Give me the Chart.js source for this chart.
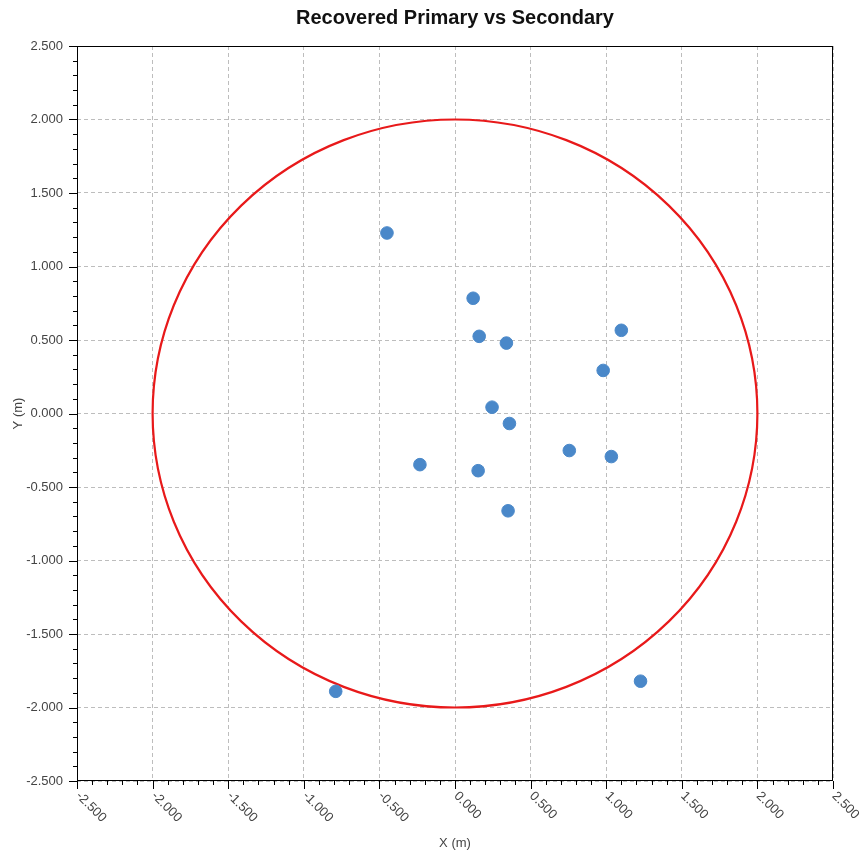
<!DOCTYPE html>
<html><head><meta charset="utf-8">
<script src="https://cdn.jsdelivr.net/npm/chart.js@4.4.0/dist/chart.umd.min.js"></script>
<style>html,body{margin:0;padding:0;background:#fff}#wrap{width:865px;height:863px}</style>
</head><body><div id="wrap"><canvas id="c" width="865" height="863"></canvas></div>
<script>
const TITLE = 'Recovered Primary vs Secondary';
const X_LABEL = 'X (m)';
const Y_LABEL = 'Y (m)';
const AXIS_MIN = -2.5, AXIS_MAX = 2.5, MAJOR_STEP = 0.5, MINOR_PER_MAJOR = 5;
const TICK_VALUES = [-2.5, -2.0, -1.5, -1.0, -0.5, 0.0, 0.5, 1.0, 1.5, 2.0, 2.5];
const TICK_LABELS = ['-2.500', '-2.000', '-1.500', '-1.000', '-0.500', '0.000', '0.500', '1.000', '1.500', '2.000', '2.500'];
const PRIMARY_RADIUS = 2.0;
const secondaryX = [-0.45, 0.12, 0.16, 0.34, 1.10, 0.98, 0.245, 0.36, 0.756, 1.034, -0.232, 0.153, 0.351, -0.789, 1.227];
const secondaryY = [1.228, 0.784, 0.525, 0.479, 0.566, 0.293, 0.043, -0.068, -0.252, -0.293, -0.348, -0.389, -0.662, -1.89, -1.821];

const FONT = '"Liberation Sans", Arial, Helvetica, sans-serif';
const TICK_COLOR = '#444';

const points = secondaryX.map((x, i) => ({x: x, y: secondaryY[i]}));

function labelFor(v) {
  const i = TICK_VALUES.findIndex(t => Math.abs(t - v) < 1e-9);
  return i >= 0 ? TICK_LABELS[i] : '';
}

const framePlugin = {
  id: 'frame',
  beforeDatasetsDraw(chart) {
    const {ctx} = chart;
    const xs = chart.scales.x, ys = chart.scales.y;
    const cx = xs.getPixelForValue(0), cy = ys.getPixelForValue(0);
    const rx = xs.getPixelForValue(PRIMARY_RADIUS) - cx;
    const ry = cy - ys.getPixelForValue(PRIMARY_RADIUS);
    ctx.save();
    ctx.strokeStyle = '#e8191a';
    ctx.lineWidth = 2.2;
    ctx.beginPath();
    ctx.ellipse(cx, cy, rx, ry, 0, 0, Math.PI * 2);
    ctx.stroke();
    ctx.restore();
  },
  afterDraw(chart) {
    const {ctx, chartArea: a} = chart;
    const xs = chart.scales.x, ys = chart.scales.y;
    ctx.save();
    // title centred over the plot area
    ctx.fillStyle = '#111';
    ctx.font = 'bold 20px ' + FONT;
    ctx.textAlign = 'center';
    ctx.textBaseline = 'middle';
    ctx.fillText(TITLE, (a.left + a.right) / 2, 18);
    // frame
    ctx.strokeStyle = '#000';
    ctx.lineWidth = 1;
    ctx.strokeRect(Math.round(a.left) + 0.5, Math.round(a.top) + 0.5, Math.round(a.right - a.left) - 1, Math.round(a.bottom - a.top) - 1);
    const n = Math.round((AXIS_MAX - AXIS_MIN) / MAJOR_STEP) * MINOR_PER_MAJOR;
    const minorStep = MAJOR_STEP / MINOR_PER_MAJOR;
    ctx.beginPath();
    for (let i = 0; i <= n; i++) {
      const v = AXIS_MIN + i * minorStep;
      const len = (i % MINOR_PER_MAJOR === 0) ? 8 : 4;
      const px = Math.round(xs.getPixelForValue(v)) + 0.5;
      ctx.moveTo(px, a.bottom);
      ctx.lineTo(px, a.bottom + len);
      const py = Math.round(ys.getPixelForValue(v)) + 0.5;
      ctx.moveTo(a.left, py);
      ctx.lineTo(a.left - len, py);
    }
    ctx.stroke();
    ctx.fillStyle = TICK_COLOR;
    ctx.font = '13px ' + FONT;
    ctx.textAlign = 'left';
    ctx.textBaseline = 'middle';
    TICK_VALUES.forEach((v, i) => {
      const px = xs.getPixelForValue(v);
      ctx.save();
      ctx.translate(px + 1, a.bottom + 13);
      ctx.rotate(Math.PI / 4);
      ctx.fillText(TICK_LABELS[i], 0, 0);
      ctx.restore();
    });
    ctx.restore();
  }
};

new Chart(document.getElementById('c'), {
  type: 'scatter',
  data: {
    datasets: [{
      label: 'Secondary',
      data: points,
      backgroundColor: '#4a88c9',
      borderColor: '#4a88c9',
      pointRadius: 6.3,
      pointHoverRadius: 6.3
    }]
  },
  options: {
    responsive: false,
    animation: false,
    devicePixelRatio: 1,
    layout: {padding: {left: 0, right: 32, top: 46, bottom: 0}},
    plugins: {
      legend: {display: false},
      tooltip: {enabled: false},
      title: {display: false}
    },
    scales: {
      x: {
        type: 'linear',
        min: AXIS_MIN, max: AXIS_MAX,
        afterFit: s => { s.height = 82; },
        afterBuildTicks: s => { s.ticks = TICK_VALUES.map(v => ({value: v})); },
        ticks: {display: false},
        grid: {color: '#bdbdbd', lineWidth: 1, drawTicks: false},
        border: {display: false, dash: [4, 3]},
        title: {display: true, text: X_LABEL, color: TICK_COLOR, font: {family: FONT, size: 13}, padding: {top: 4, bottom: 12}}
      },
      y: {
        type: 'linear',
        min: AXIS_MIN, max: AXIS_MAX,
        afterFit: s => { s.width = 77; },
        afterBuildTicks: s => { s.ticks = TICK_VALUES.map(v => ({value: v})); },
        ticks: {color: TICK_COLOR, font: {family: FONT, size: 13}, padding: 14, callback: v => labelFor(v)},
        grid: {color: '#bdbdbd', lineWidth: 1, drawTicks: false},
        border: {display: false, dash: [4, 3]},
        title: {display: true, text: Y_LABEL, color: TICK_COLOR, font: {family: FONT, size: 13}, padding: {top: 11, bottom: 4}}
      }
    }
  },
  plugins: [framePlugin]
});
</script>
</body></html>
